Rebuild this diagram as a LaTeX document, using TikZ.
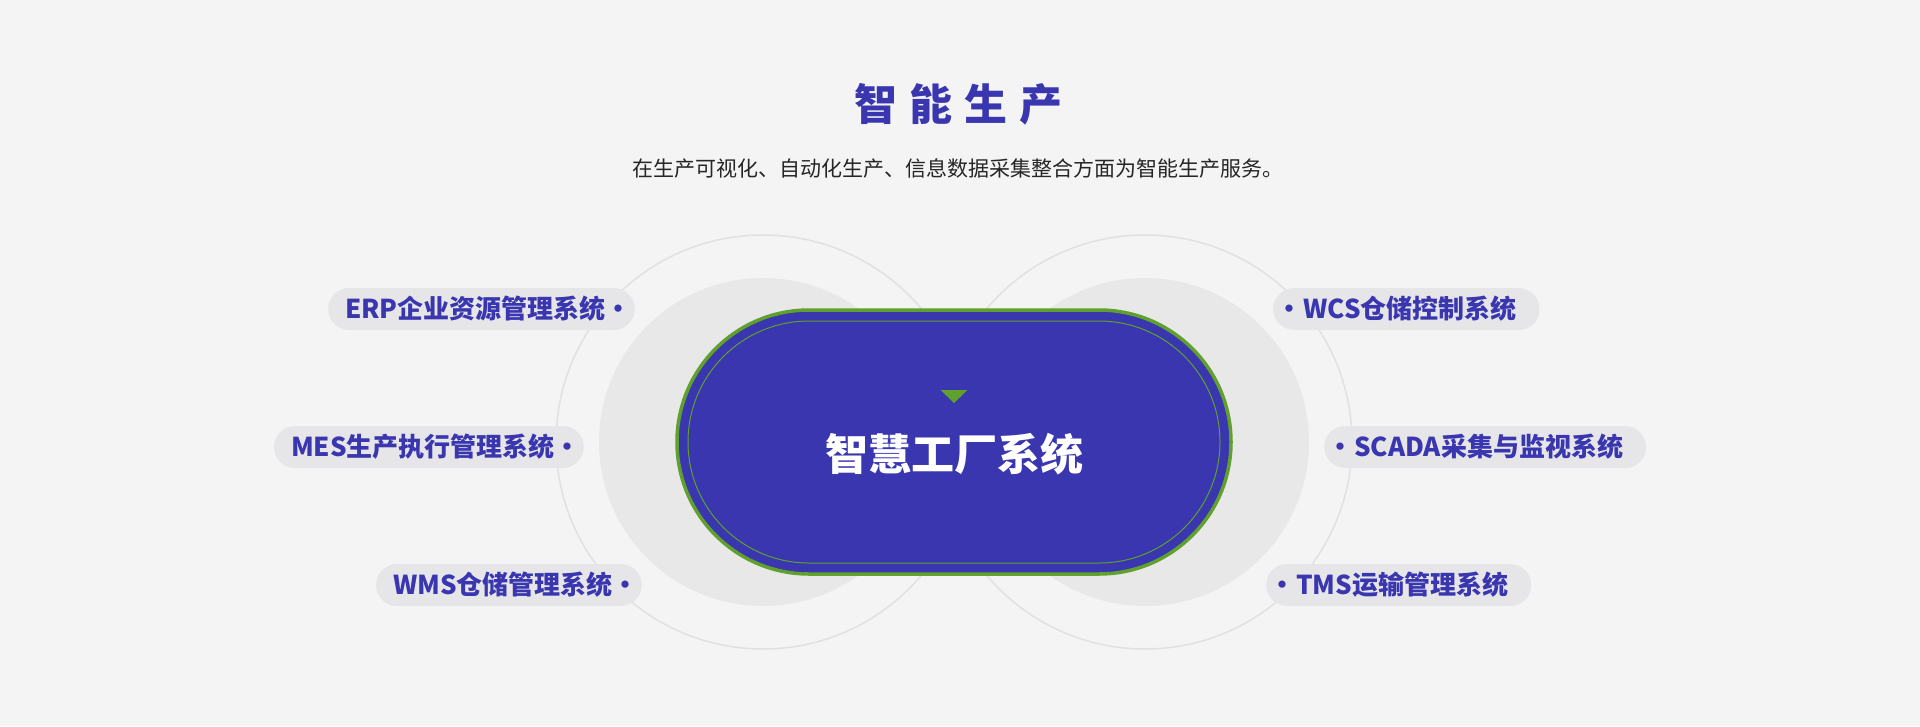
\documentclass[tikz,border=0pt]{standalone}
\usepackage{fontspec}
\setmainfont{Noto Sans CJK SC}
\usepackage{tikz}

\definecolor{bgcol}{HTML}{F4F4F4}
\definecolor{ringline}{HTML}{E1E1E1}
\definecolor{ringfill}{HTML}{E8E8E8}
\definecolor{pillfill}{HTML}{E6E6E8}
\definecolor{indigo}{HTML}{3936B0}
\definecolor{leaf}{HTML}{60A02C}
\definecolor{subtext}{HTML}{262626}

\newcommand{\pdot}{\makebox[6pt]{•}}

\tikzset{
  pill/.style = {fill = pillfill, rounded corners = 21pt, minimum height = 42pt, inner xsep = 13pt, inner ysep = 0pt, text = indigo, font = \fontsize{26}{26}\selectfont\bfseries},
}

\begin{document}
\begin{tikzpicture}[x=1pt, y=-1pt]
\fill[bgcol] (0,0) rectangle (1920,726);
\useasboundingbox (0,0) rectangle (1920,726);

\pgfmathsetmacro{\cx}{954}   % axis of the diagram
\pgfmathsetmacro{\cy}{442}
\pgfmathsetmacro{\off}{191}  % ring centre offset
\pgfmathsetmacro{\ro}{207}
\pgfmathsetmacro{\ri}{164}

% heading
\node[anchor = base, text = indigo, font = \fontsize{43}{43}\selectfont\bfseries] (title) at (958,120) {智\kern12pt 能\kern12pt 生\kern12pt 产};
\node[anchor = base, text = subtext, font = \fontsize{21}{21}\selectfont] (sub) at (958,176) {在生产可视化、自动化生产、信息数据采集整合方面为智能生产服务。};

% two rings
\draw[ringline, line width = 1.5pt] (\cx-\off,\cy) circle [radius = \ro pt];
\draw[ringline, line width = 1.5pt] (\cx+\off,\cy) circle [radius = \ro pt];
\fill[ringfill] (\cx-\off,\cy) circle [radius = \ri pt];
\fill[ringfill] (\cx+\off,\cy) circle [radius = \ri pt];

% core
\filldraw[fill = indigo, draw = leaf, line width = 3.5pt, rounded corners = 132pt] (\cx-277,\cy-132) rectangle (\cx+277,\cy+132);
\draw[leaf, line width = 1pt, rounded corners = 121pt] (\cx-266,\cy-121) rectangle (\cx+266,\cy+121);
\fill[leaf] (\cx-13.5,390) -- (\cx+13.5,390) -- (\cx,403) -- cycle;
\node[anchor = base, text = white, font = \fontsize{43}{43}\selectfont\bfseries] (core) at (\cx,470) {智慧工厂系统};

% systems
\node[pill, anchor = east] (erp) at (\cx-319,309) {\kern4pt ERP企业资源管理系统\kern10pt\pdot};
\node[pill, anchor = east] (mes) at (\cx-370,447) {\kern4pt MES生产执行管理系统\kern10pt\pdot};
\node[pill, anchor = east] (wms) at (\cx-312,585) {\kern4pt WMS仓储管理系统\kern10pt\pdot};
\node[pill, anchor = west] (wcs) at (\cx+319,309) {\pdot\kern11pt WCS仓储控制系统\kern10pt};
\node[pill, anchor = west] (scada) at (\cx+370,447) {\pdot\kern11pt SCADA采集与监视系统\kern10pt};
\node[pill, anchor = west] (tms) at (\cx+312,585) {\pdot\kern11pt TMS运输管理系统\kern10pt};
\end{tikzpicture}
\end{document}
